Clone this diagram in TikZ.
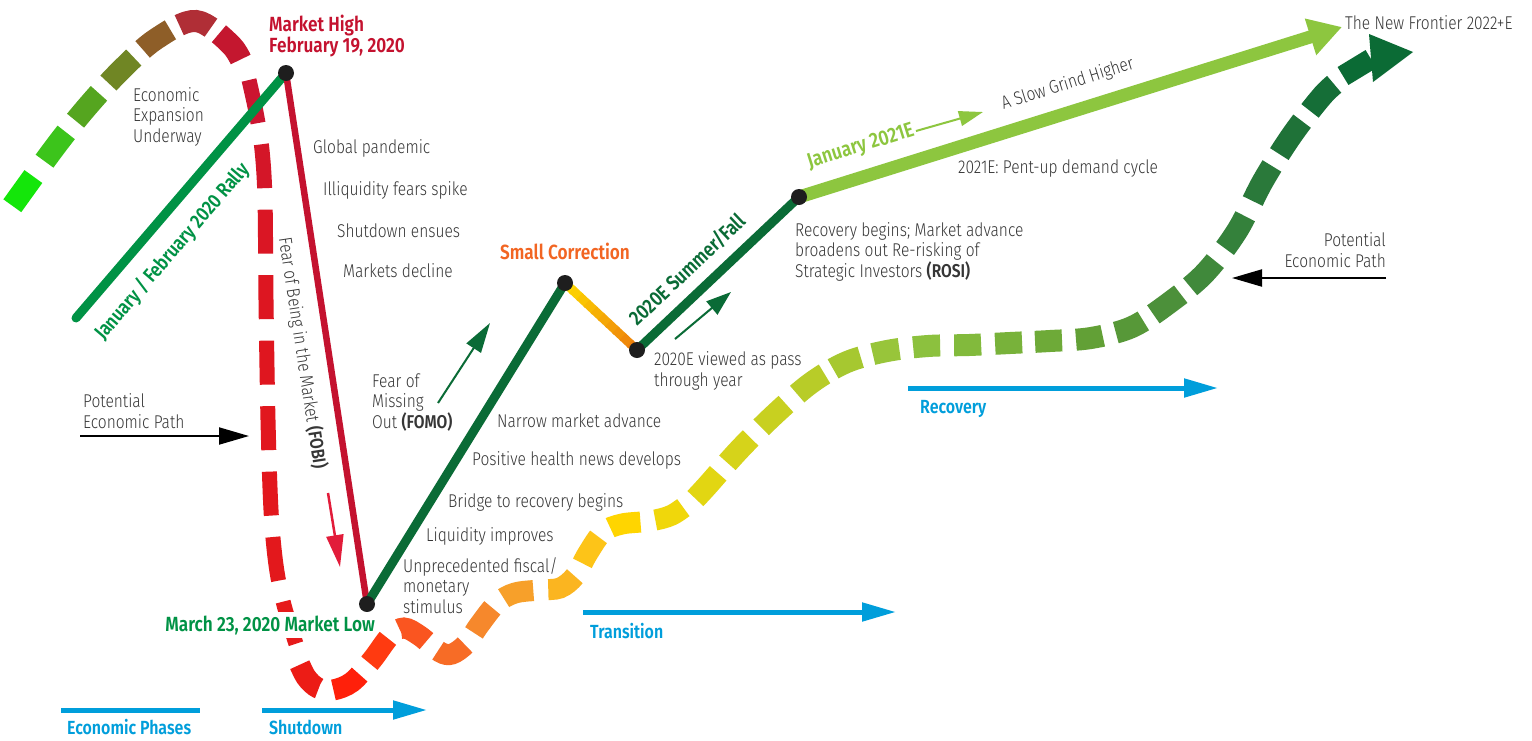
\documentclass[tikz,border=0pt]{standalone}
\usepackage{fontspec}
\setmainfont{Fira Sans Light}[BoldFont={Fira Sans SemiBold}, FakeStretch=0.84]
\usetikzlibrary{arrows.meta,calc}

\definecolor{ink}{HTML}{363636}
\definecolor{rallygreen}{HTML}{009245}
\definecolor{highred}{HTML}{C4122F}
\definecolor{fobired}{HTML}{E21C3A}
\definecolor{deepgreen}{HTML}{0A6B36}
\definecolor{grindgreen}{HTML}{8DC63F}
\definecolor{corrorange}{HTML}{F26522}
\definecolor{corrtop}{HTML}{FFDD00}
\definecolor{corrbot}{HTML}{EC7A0C}
\definecolor{phaseblue}{HTML}{009EDB}
\definecolor{dotblack}{HTML}{1E1E1E}
\definecolor{pathend}{HTML}{0B6B35}

\tikzset{
  txt/.style={font=\fontsize{18.5}{20.5}\selectfont, text=ink, inner sep=0pt, align=left},
  milestone/.style={font=\fontsize{20.5}{20.5}\selectfont\bfseries, inner sep=0pt, align=left},
  phase/.style={font=\fontsize{19}{20}\selectfont\bfseries, text=phaseblue, inner sep=0pt, anchor=base west},
  phaseline/.style={phaseblue, line width=5pt},
  phasearrow/.style={phaseline, -{Triangle[length=34pt,width=18pt]}},
  pointer/.style={line width=2pt, -{Triangle[length=30pt,width=17pt]}},
  marketline/.style={line width=9pt},
}

% one dash of the economic path per entry: centre/length/colour along the curve
\newcommand\dashrun[3]{%
  \foreach \dctr/\dlen/\dcol in {#3}{%
    \definecolor{dashcol}{HTML}{\dcol}%
    \pgfmathsetmacro\dashoff{\dctr-\dlen/2}%
    \draw[line width=#1pt, dashcol, dash pattern=on 0pt off \dashoff on \dlen off 9000] #2;
  }}

\begin{document}
\begin{tikzpicture}[x=1pt, y=-1pt]
\fill[white] (0,0) rectangle (1532,740);
\useasboundingbox (0,0) rectangle (1532,740);

% market turning points
\coordinate (janstart) at (76,318);
\coordinate (high) at (286,73);
\coordinate (low) at (367,604);
\coordinate (corr) at (565,283);
\coordinate (dip) at (637,350);
\coordinate (rebound) at (799,197);
\coordinate (frontier) at (1342,27);

% potential economic path (dashed, colour runs green -> red -> yellow -> green)
\dashrun{22}{plot[smooth, tension=.55] coordinates {(10,209) (55,147) (87,107) (121,70) (156,39) (196,21) (232,46) (246,72)}}
  {22/36/14E60A, 77/36/3CC41B, 128/36/55A51F, 178/36/708624, 225/34/8E5E28, 269/34/B02E36, 313/34/C4172F}
\dashrun{15}{plot[smooth, tension=.55] coordinates {(249,80) (256,112) (262,150) (265,200) (266,300) (268,420) (271,510) (276,565) (284,605) (298,650)}}
  {22/44/CC1530, 87.5/44/D41628, 153/44/DA1624, 218.5/44/DD1621, 284/44/DF161F, 349.5/44/E1171E, 415/44/E2171D, 480.5/44/E3181C, 546/44/E61A1B}
\dashrun{21}{plot[smooth, tension=.55] coordinates {(296,656) (306,677) (318,688) (333,690) (352,682) (372,660) (390,636) (404,628) (420,636) (440,652) (452,654) (466,644) (480,624) (497,603) (515,593) (540,590) (560,588) (575,576) (588,553) (603,532) (622,524) (650,521) (672,515) (692,501)}}
  {25/31/EC1C16, 71/31/FF200A, 117/31/FF3A10, 163/31/FA5520, 209/31/F76C26, 255/31/F6882C, 301/31/F7A02A, 347/31/FBB520, 393/31/FDC418, 439/31/FFD500, 485/31/F0D70B}
\dashrun{22}{plot[smooth, tension=.55] coordinates {(694,500) (707,486) (739,450) (774,415) (811,383) (847,362) (887,351) (928,346) (969,345) (1010,343) (1050,341) (1091,338) (1132,327) (1169,303) (1205,273) (1237,231) (1263,181) (1292,135) (1323,95) (1341,79)}}
  {19/34/E2D612, 67/34/D6D31A, 116/34/C8D020, 165/34/B8CC28, 207/30/A6C830, 248/27/98C53A, 289/27/8CC13E, 330/27/82BA3C, 371/27/78B23A, 411/27/6EAA38, 452/27/62A036, 494/30/579838, 538/34/4C903A, 585/36/40893B, 638/38/34813B, 694/40/2A793A, 748/40/1F7238, 799/36/156E37}
\coordinate (pathtip) at (1413,52);
\draw[line width=21pt, pathend] (1343,76) -- (1371,59);
\fill[pathend] (1369,34) -- (pathtip) -- (1373,82) -- cycle;

% market path
\draw[marketline, rallygreen, line cap=round] (janstart) -- node[sloped, pos=0.35, below=15pt, milestone, font=\fontsize{20}{20}\selectfont\bfseries, text=rallygreen] (rallylbl) {January / February 2020 Rally} (high);
\draw[line width=6.5pt, highred] (high) -- node[sloped, pos=0.52, below=13pt, txt] (fobilbl) {Fear of Being in the Market \textbf{(FOBI)}} (low);
\draw[marketline, deepgreen] (low) -- (corr);
\foreach \k in {0,...,9}{
  \pgfmathtruncatemacro\mixpct{10*\k+5}
  \draw[marketline, corrbot!\mixpct!corrtop] ($(corr)!\k/10!(dip)$) -- ($(corr)!{(\k+1.2)/10}!(dip)$);
}
\draw[marketline, deepgreen] (dip) -- node[sloped, pos=0.41, above=10pt, milestone, text=deepgreen] (summerlbl) {2020E Summer/Fall} (rebound);
\draw[line width=13pt, grindgreen, -{Triangle[length=33pt,width=36pt]}] (rebound) -- node[sloped, pos=0.13, above=13pt, milestone, font=\fontsize{21}{21}\selectfont\bfseries, text=grindgreen] (jan21lbl) {January 2021E} node[sloped, pos=0.51, above=12pt, txt] (grindlbl) {A Slow Grind Higher} (frontier);
\foreach \p in {high,low,corr,dip,rebound}
  \fill[dotblack] (\p) circle[radius=8pt];

% small pointers
\coordinate (fobi0) at (328,493); \coordinate (fobi1) at (340,567);
\draw[pointer, fobired, line width=2.5pt, -{Triangle[length=32pt,width=17pt]}] (fobi0) -- (fobi1);
\coordinate (fomo0) at (438,403); \coordinate (fomo1) at (490,323);
\draw[pointer, deepgreen] (fomo0) -- (fomo1);
\coordinate (sum0) at (675,339); \coordinate (sum1) at (731,292);
\draw[pointer, deepgreen, -{Triangle[length=25pt,width=17pt]}] (sum0) -- (sum1);
\coordinate (jan0) at (916,131); \coordinate (jan1) at (983,112);
\draw[pointer, grindgreen, -{Triangle[length=24pt,width=15pt]}] (jan0) -- (jan1);
\coordinate (potl0) at (80,436); \coordinate (potl1) at (249,436);
\draw[pointer, black] (potl0) -- (potl1);
\coordinate (potr0) at (1386,278); \coordinate (potr1) at (1232,278);
\draw[pointer, black] (potr0) -- (potr1);

% labels
\node[milestone, text=highred, anchor=base west] (highlbl) at (269,52) {Market High\\February 19, 2020};
\node[txt, anchor=base west] (expansion) at (133,142) {Economic\\Expansion\\Underway};
\node[txt, anchor=base west] (pandemic) at (313,153) {Global pandemic};
\node[txt, anchor=base west] (illiquid) at (323,195) {Illiquidity fears spike};
\node[txt, anchor=base west] (ensues) at (337,237) {Shutdown ensues};
\node[txt, anchor=base west] (decline) at (343,277) {Markets decline};
\node[txt, anchor=base west] (potleft) at (83,428) {Potential\\Economic Path};
\node[txt, anchor=base west] (fomo) at (372,428) {Fear of\\Missing\\Out \textbf{(FOMO)}};
\node[txt, anchor=base west] (narrow) at (497,427) {Narrow market advance};
\node[txt, anchor=base west] (health) at (472,465) {Positive health news develops};
\node[txt, anchor=base west] (bridge) at (448,507) {Bridge to recovery begins};
\node[txt, anchor=base west] (liquid) at (426,541) {Liquidity improves};
\node[txt, anchor=base west] (stimulus) at (403,613) {Unprecedented fiscal/\\monetary\\stimulus};
\node[milestone, text=rallygreen, anchor=base east, fill=white, inner ysep=3pt] (lowlbl) at (375,631) {March 23, 2020 Market Low};
\node[milestone, text=corrorange, anchor=base] (corrlbl) at (565,259) {Small Correction};
\node[txt, anchor=base west] (passyear) at (654,386) {2020E viewed as pass\\through year};
\node[txt, anchor=base west] (rosi) at (795,277) {Recovery begins; Market advance\\broadens out Re-risking of\\Strategic Investors \textbf{(ROSI)}};
\node[txt, anchor=base west] (pentup) at (958,173) {2021E: Pent-up demand cycle};
\node[txt, anchor=base east, align=right] (potright) at (1386,267) {Potential\\Economic Path};
\node[txt, anchor=base west] (newfront) at (1345,29) {The New Frontier 2022+E};

% economic phases
\coordinate (eco0) at (61,710); \coordinate (eco1) at (200,710);
\draw[phaseline] (eco0) -- (eco1);
\node[phase] (ecolbl) at (67,734) {Economic Phases};
\coordinate (shut0) at (262,710); \coordinate (shut1) at (427,710);
\draw[phasearrow] (shut0) -- (shut1);
\node[phase] (shutlbl) at (269,734) {Shutdown};
\coordinate (trans0) at (583,612); \coordinate (trans1) at (896,612);
\draw[phasearrow] (trans0) -- (trans1);
\node[phase] (translbl) at (590,638) {Transition};
\coordinate (rec0) at (908,388); \coordinate (rec1) at (1218,388);
\draw[phasearrow] (rec0) -- (rec1);
\node[phase] (reclbl) at (920,413) {Recovery};
\end{tikzpicture}
\end{document}
